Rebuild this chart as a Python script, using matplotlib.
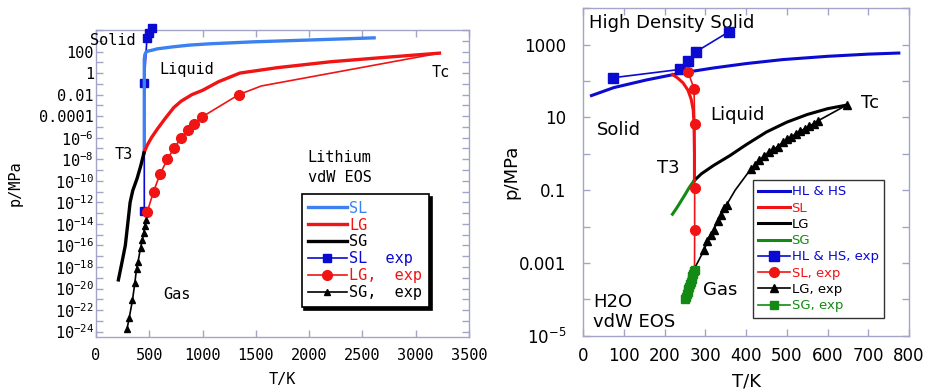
import matplotlib.pyplot as plt
from matplotlib.ticker import FixedLocator, NullLocator

# ---------------- Lithium, vdW EOS (log10 of p/MPa) ----------------
li_sl_T = [453, 453, 458, 468, 490, 530, 575, 725, 880, 1070, 1475, 2000, 2610]
li_sl_logp = [-7.4, 1.26, 1.7, 1.92, 2.05, 2.13, 2.25, 2.44, 2.6, 2.72, 2.9, 3.07, 3.27]

li_lg_T = [450, 480, 520, 575, 650, 730, 800, 900, 1000, 1150, 1350, 1700, 2200, 2700, 3223]
li_lg_logp = [-7.4, -6.7, -6.0, -5.2, -4.2, -3.2, -2.6, -2.0, -1.6, -0.8, 0.0, 0.5, 1.05, 1.45, 1.85]

li_sg_T = [210, 245, 275, 300, 320, 345, 385, 420, 450]
li_sg_logp = [-19.2, -17.5, -16.0, -13.8, -12.0, -10.9, -9.8, -8.6, -7.4]

li_sl_exp_T = [453, 453, 478, 497, 522]
li_sl_exp_logp = [-12.8, -0.91, 3.3, 3.76, 4.2]

li_lg_exp_T = [480, 540, 600, 670, 730, 800, 860, 920, 990, 1340, 1550, 3223]
li_lg_exp_logp = [-12.9, -11.0, -9.4, -8.0, -7.0, -6.0, -5.3, -4.7, -4.1, -2.0, -1.2, 1.85]

li_sg_exp_T = [290, 312, 342, 364, 380, 395, 418, 435, 448, 458, 472]
li_sg_exp_logp = [-23.8, -22.7, -21.1, -19.5, -18.2, -17.5, -16.2, -15.5, -14.8, -14.2, -13.6]

# ---------------- H2O, vdW EOS (log10 of p/MPa) ----------------
w_hs_T = [20, 75, 155, 240, 320, 400, 490, 600, 700, 775]
w_hs_logp = [1.6, 1.82, 2.03, 2.22, 2.36, 2.48, 2.59, 2.68, 2.74, 2.77]

w_sl_T = [219, 232, 245, 257, 265, 270, 272, 273, 273]
w_sl_logp = [2.18, 2.08, 1.95, 1.75, 1.5, 1.2, 0.8, 0.0, -0.73]

w_lg_T = [273, 290, 320, 360, 400, 450, 500, 550, 600, 647]
w_lg_logp = [-0.73, -0.55, -0.32, -0.05, 0.25, 0.6, 0.87, 1.08, 1.24, 1.34]

w_sg_T = [219, 230, 240, 250, 260, 268, 273]
w_sg_logp = [-1.66, -1.48, -1.3, -1.12, -0.93, -0.8, -0.73]

w_hs_exp_T = [72, 238, 257, 276, 357]
w_hs_exp_logp = [2.09, 2.32, 2.55, 2.8, 3.35]

w_sl_exp_T = [257, 272, 273.5, 273.5, 273.5, 273.2]
w_sl_exp_logp = [2.26, 1.79, 0.82, -0.94, -2.09, -3.1]

w_lg_exp_T = [276, 297, 305, 313, 320, 330, 338, 346, 352, 373, 412, 422, 432, 445, 455, 466,
              478, 490, 500, 511, 522, 533, 544, 555, 566, 577, 647]
w_lg_exp_logp = [-3.09, -2.64, -2.4, -2.22, -2.1, -1.86, -1.68, -1.5, -1.4, -1.0, -0.41, -0.3,
                 -0.18, -0.05, 0.05, 0.12, 0.2, 0.32, 0.4, 0.47, 0.55, 0.62, 0.69, 0.76, 0.83,
                 0.91, 1.34]

w_sg_exp_T = [250, 252, 254, 256, 258, 260, 262, 264, 266, 268, 270, 272, 273.2]
w_sg_exp_logp = [-4.0, -3.93, -3.86, -3.79, -3.72, -3.65, -3.58, -3.51, -3.44, -3.37, -3.3,
                 -3.23, -3.19]

li_yticks = list(range(-24, 5))
w_yticks = list(range(-5, 5))


def p(logs):
    return [10.0 ** v for v in logs]


def ylabel_text(k, plain):
    if k in plain:
        return plain[k]
    return r'$\mathregular{10^{%d}}$' % k


FRAME = '#a4a4c8'
LBLUE = '#3b82f0'
DBLUE = '#0a0ad0'
RED = '#f01414'
GREEN = '#138a13'
MONO = 'DejaVu Sans Mono'
SANS = 'DejaVu Sans'

fig = plt.figure(figsize=(9.25, 3.89), dpi=100)
ax1 = fig.add_axes([0.1038, 0.1337, 0.4032, 0.7892])
ax2 = fig.add_axes([0.6306, 0.137, 0.3521, 0.8417])

# ---- Lithium panel ----
ax1.plot(li_sl_exp_T, p(li_sl_exp_logp), color=DBLUE, lw=1.2, marker='s', ms=6,
         clip_on=False, zorder=3, label='SL  exp')
ax1.plot(li_sl_T, p(li_sl_logp), color=LBLUE, lw=2.4, zorder=4, label='SL')
ax1.plot(li_lg_T, p(li_lg_logp), color=RED, lw=2.4, zorder=4, label='LG')
ax1.plot(li_sg_T, p(li_sg_logp), color='black', lw=2.4, zorder=4, label='SG')
ax1.plot(li_lg_exp_T, p(li_lg_exp_logp), color=RED, lw=1.2, marker='o', ms=7,
         markevery=list(range(10)), zorder=5, label='LG,  exp')
ax1.plot(li_sg_exp_T, p(li_sg_exp_logp), color='black', lw=1.2, marker='^', ms=5,
         zorder=5, label='SG,  exp')

ax1.set_xlim(0, 3500)
ax1.set_yscale('log')
ax1.set_ylim(10 ** -24.5, 1e4)
ax1.set_xticks(range(0, 3501, 500))
ax1.yaxis.set_major_locator(FixedLocator([10.0 ** k for k in li_yticks]))
ax1.yaxis.set_minor_locator(NullLocator())
li_plain = {2: '100', 0: '1', -2: '0.01', -4: '0.0001'}
ax1.set_yticklabels([ylabel_text(k, li_plain) if k % 2 == 0 and k <= 2 else ''
                     for k in li_yticks], fontfamily=MONO, fontsize=11)
ax1.set_xticklabels([str(v) for v in range(0, 3501, 500)], fontfamily=MONO, fontsize=11)
ax1.tick_params(axis='y', pad=1.5)
ax1.tick_params(axis='x', pad=8)
ax1.set_xlabel('T/K', fontfamily=MONO, fontsize=11)
ax1.set_ylabel('p/MPa', fontfamily=MONO, fontsize=11)
ax1.xaxis.set_label_coords(0.5, -0.114)
ax1.yaxis.set_label_coords(-0.198, 0.5)

for x, y, s in [(-0.016, 0.967, 'Solid'), (0.169, 0.870, 'Liquid'), (0.901, 0.863, 'Tc'),
                (0.051, 0.593, 'T3'), (0.568, 0.586, 'Lithium'), (0.568, 0.521, 'vdW EOS'),
                (0.18, 0.137, 'Gas')]:
    ax1.text(x, y, s, transform=ax1.transAxes, ha='left', va='center',
             fontfamily=MONO, fontsize=11)

h, l = ax1.get_legend_handles_labels()
order = ['SL', 'LG', 'SG', 'SL  exp', 'LG,  exp', 'SG,  exp']
hs = [h[l.index(o)] for o in order]
leg1 = ax1.legend(hs, order, loc='upper left', bbox_to_anchor=(0.551, 0.466),
                  borderaxespad=0, fancybox=False, edgecolor='black', framealpha=1,
                  shadow={'color': 'black', 'alpha': 1},
                  prop={'family': MONO, 'size': 11}, handlelength=2.5,
                  handletextpad=0.15, labelspacing=0.12, borderpad=0.45)
leg1.get_frame().set_linewidth(1.2)
for t, ln in zip(leg1.get_texts(), leg1.get_lines()):
    t.set_color(ln.get_color())

# ---- H2O panel ----
ax2.plot(w_hs_T, p(w_hs_logp), color=DBLUE, lw=2.2, zorder=4, label='HL & HS')
ax2.plot(w_sl_T, p(w_sl_logp), color=RED, lw=2.2, zorder=4, label='SL')
ax2.plot(w_lg_T, p(w_lg_logp), color='black', lw=2.2, zorder=4, label='LG')
ax2.plot(w_sg_T, p(w_sg_logp), color=GREEN, lw=2.2, zorder=4, label='SG')
ax2.plot(w_hs_exp_T, p(w_hs_exp_logp), color=DBLUE, lw=1.2, marker='s', ms=7,
         zorder=5, label='HL & HS, exp')
ax2.plot(w_sl_exp_T, p(w_sl_exp_logp), color=RED, lw=1.2, marker='o', ms=7,
         markevery=list(range(5)), zorder=5, label='SL, exp')
ax2.plot(w_lg_exp_T, p(w_lg_exp_logp), color='black', lw=1.2, marker='^', ms=6,
         markevery=list(range(1, 9)) + list(range(10, 27)), zorder=5, label='LG, exp')
ax2.plot(w_sg_exp_T, p(w_sg_exp_logp), color=GREEN, lw=1.2, marker='s', ms=6,
         zorder=6, label='SG, exp')

ax2.set_xlim(0, 800)
ax2.set_yscale('log')
ax2.set_ylim(1e-5, 1e4)
ax2.set_xticks(range(0, 801, 100))
ax2.yaxis.set_major_locator(FixedLocator([10.0 ** k for k in w_yticks]))
ax2.yaxis.set_minor_locator(NullLocator())
w_plain = {3: '1000', 1: '10', -1: '0.1', -3: '0.001'}
ax2.set_yticklabels([ylabel_text(k, w_plain) if k % 2 == 1 or k == -5 else ''
                     for k in w_yticks], fontfamily=SANS, fontsize=12)
ax2.set_xticklabels([str(v) for v in range(0, 801, 100)], fontfamily=SANS, fontsize=12)
ax2.tick_params(axis='y', pad=12)
ax2.tick_params(axis='x', pad=8)
ax2.set_xlabel('T/K', fontfamily=SANS, fontsize=13)
ax2.set_ylabel('p/MPa', fontfamily=SANS, fontsize=13)
ax2.xaxis.set_label_coords(0.5, -0.111)
ax2.yaxis.set_label_coords(-0.194, 0.5)

for x, y, s in [(0.018, 0.956, 'High Density Solid'), (0.041, 0.628, 'Solid'),
                (0.391, 0.674, 'Liquid'), (0.852, 0.710, 'Tc'), (0.225, 0.511, 'T3'),
                (0.368, 0.140, 'Gas'), (0.031, 0.104, 'H2O'), (0.031, 0.043, 'vdW EOS')]:
    ax2.text(x, y, s, transform=ax2.transAxes, ha='left', va='center',
             fontfamily=SANS, fontsize=13)

leg2 = ax2.legend(loc='upper left', bbox_to_anchor=(0.52, 0.4756), borderaxespad=0,
                  fancybox=False, edgecolor='#333333', framealpha=1,
                  prop={'family': SANS, 'size': 9.5}, handlelength=2.4,
                  handletextpad=0.15, labelspacing=0.25, borderpad=0.4)
leg2.get_frame().set_linewidth(1.0)
for t, ln in zip(leg2.get_texts(), leg2.get_lines()):
    t.set_color(ln.get_color())

for ax in (ax1, ax2):
    for sp in ax.spines.values():
        sp.set_color(FRAME)
        sp.set_linewidth(1.0)
    ax.tick_params(which='both', direction='in', length=5, width=1, color=FRAME,
                   top=True, right=True)

fig.savefig('out.png', dpi=100)
